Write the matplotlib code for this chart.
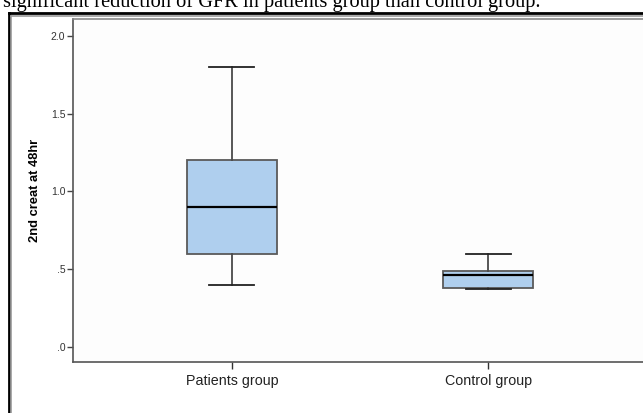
import matplotlib
matplotlib.use("Agg")
import matplotlib.pyplot as plt
from matplotlib.lines import Line2D

# box plot summaries
groups = ["Patients group", "Control group"]
whisker_low = [0.40, 0.37]
q1 = [0.60, 0.38]
median = [0.90, 0.46]
q3 = [1.20, 0.49]
whisker_high = [1.80, 0.60]

y_ticks = [0.0, 0.5, 1.0, 1.5, 2.0]
y_tick_labels = [".0", ".5", "1.0", "1.5", "2.0"]

caption = "significant reduction of GFR in patients group than control group."

W, H = 643, 413
fig = plt.figure(figsize=(W / 100, H / 100), dpi=100)
fig.patch.set_facecolor("white")


def fx(px):
    return px / W


def fy(py):
    return 1 - py / H


# caption line from the page, cut off at the top
fig.text(fx(3), fy(7.5), caption, family="Liberation Serif", fontsize=14.7,
         color="black", va="baseline", ha="left")

# double frame round the chart
for x0, y0, col, lw in [(8.5, 13, "black", 2.0), (11, 16, "#9a9a9a", 1.2)]:
    fig.add_artist(Line2D([fx(x0), fx(x0)], [fy(y0), 0], color=col, lw=lw))
    fig.add_artist(Line2D([fx(x0), 1], [fy(y0), fy(y0)], color=col, lw=lw))

ax = fig.add_axes([fx(73), fy(362), fx(647) - fx(73), fy(19) - fy(362)])

stats = []
for i, name in enumerate(groups):
    stats.append({
        "label": name,
        "whislo": whisker_low[i],
        "q1": q1[i],
        "med": median[i],
        "q3": q3[i],
        "whishi": whisker_high[i],
        "fliers": [],
    })

ax.bxp(
    stats,
    positions=[1, 2],
    widths=0.35,
    patch_artist=True,
    showfliers=False,
    boxprops=dict(facecolor="#afcfee", edgecolor="#5a5a5a", linewidth=1.3),
    medianprops=dict(color="black", linewidth=1.6),
    whiskerprops=dict(color="#4a4a4a", linewidth=1.3),
    capprops=dict(color="#222222", linewidth=1.3),
)

ax.set_xlim(0.38, 2.62)
ax.set_ylim(-0.096, 2.107)
ax.set_yticks(y_ticks)
ax.set_yticklabels(y_tick_labels, family="Liberation Sans", fontsize=7.5, color="#333333")
ax.set_xticks([1, 2])
ax.set_xticklabels(groups, family="Liberation Sans", fontsize=10.3, color="#222222")
ax.tick_params(axis="y", length=4, width=1, color="#444444", pad=1.5)
ax.tick_params(axis="x", length=5, width=1, color="#333333", pad=4)

ax.set_ylabel("2nd creat at 48hr", family="Liberation Sans", fontsize=9.3,
              fontweight="bold", labelpad=7)

ax.spines["left"].set_color("#555555")
ax.spines["bottom"].set_color("#555555")
ax.spines["top"].set_color("#8a8a8a")
ax.spines["right"].set_visible(False)
for s in ax.spines.values():
    s.set_linewidth(1.2)
ax.set_facecolor("#fdfdfd")

fig.savefig("out.png", dpi=100)
